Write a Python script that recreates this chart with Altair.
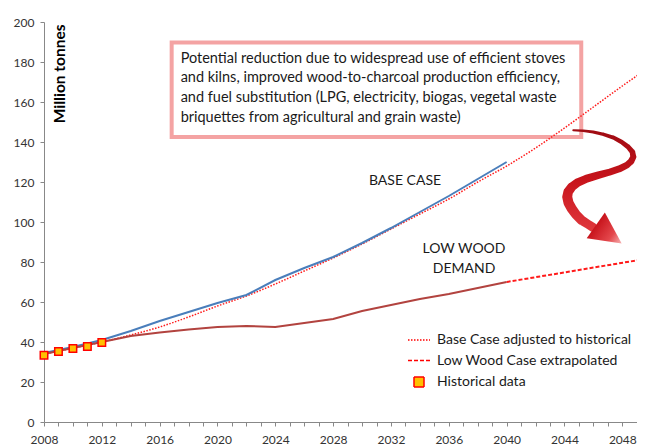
import altair as alt
import pandas as pd

# ---------------- data ----------------
proj_years = [2008, 2010, 2012, 2014, 2016, 2018, 2020, 2022, 2024,
              2026, 2028, 2030, 2032, 2034, 2036, 2038, 2040]
base_case = [34.5, 37.5, 41, 45.5, 50.5, 55, 59.5, 63.5, 71,
             77, 82.5, 89.5, 97, 105, 113, 121.5, 130]
low_wood = [34, 37, 40, 43, 44.8, 46.3, 47.5, 48, 47.5,
            49.5, 51.5, 55.5, 58.5, 61.5, 64, 67, 70]

adj_years = [2008, 2010, 2012, 2014, 2016, 2018, 2020, 2022, 2024, 2026, 2028,
             2030, 2032, 2034, 2036, 2038, 2040, 2042, 2044, 2046, 2048, 2050]
base_adjusted = [34, 37, 40, 43.5, 47.5, 52.5, 58, 63, 69, 75.5, 82,
                 89, 96.5, 104, 111.5, 120, 128, 137, 147, 157.5, 168, 178]

ext_years = [2040, 2050]
low_extrapolated = [70, 82]

hist_years = [2008, 2009, 2010, 2011, 2012]
hist_values = [33.4, 35.3, 36.7, 37.8, 39.8]

legend_labels = ["Base Case adjusted to historical",
                 "Low Wood Case extrapolated",
                 "Historical data"]

note_lines = ["Potential reduction due to widespread use of efficient stoves",
              "and kilns, improved wood-to-charcoal production efficiency,",
              "and fuel substitution (LPG, electricity,  biogas, vegetal waste",
              "briquettes from agricultural and grain waste)"]

# annotation anchors (data space)
box_x, box_x2, box_y, box_y2 = 2016.83, 2045.16, 142.5, 189.75
note_x, note_top, note_step = 2017.45, 181.7, 9.9
arrow_year = [2044.61, 2045.30, 2045.99, 2046.70, 2047.38, 2047.95, 2048.41,
              2048.70, 2048.76, 2048.60, 2048.30, 2047.80, 2047.15, 2046.35,
              2045.54, 2044.90, 2044.50, 2044.25, 2044.19, 2044.28, 2044.50,
              2044.80, 2045.19, 2045.60, 2045.97]
arrow_val = [145.85, 145.6, 145.0, 143.8, 142.2, 140.0, 137.5,
             135.0, 132.5, 130.3, 128.35, 126.6, 125.0, 123.4,
             121.7, 119.7, 117.5, 115.0, 112.5, 109.6, 106.7,
             103.7, 100.85, 99.0, 97.35]
arrow_w = [2, 2.5, 3, 3.5, 4, 4.5, 5, 5.5, 6, 6.5, 6.5, 7, 7,
           7.5, 8, 8.5, 9, 9.5, 10, 10, 10, 9.5, 9.5, 9, 9]

FONT = "Lato"

# ---------------- frames ----------------
df_base = pd.DataFrame({"year": proj_years, "value": base_case})
df_low = pd.DataFrame({"year": proj_years, "value": low_wood})
df_adj = pd.DataFrame({"year": adj_years, "value": base_adjusted})
df_ext = pd.DataFrame({"year": ext_years, "value": low_extrapolated})
df_hist = pd.DataFrame({"year": hist_years, "value": hist_values,
                        "series": ["Historical data"] * len(hist_years)})
df_box = pd.DataFrame({"year": [box_x], "year2": [box_x2],
                       "value": [box_y], "value2": [box_y2]})
df_note = pd.DataFrame({"year": [note_x] * len(note_lines),
                        "value": [note_top - i * note_step for i in range(len(note_lines))],
                        "text": note_lines})
df_labels = pd.DataFrame({"year": [2032.97, 2037.05, 2037.05],
                          "value": [120.6, 86.35, 76.35],
                          "text": ["BASE CASE", "LOW WOOD", "DEMAND"]})
df_arrow = pd.DataFrame({"year": arrow_year, "value": arrow_val,
                         "w": arrow_w, "i": list(range(len(arrow_year)))})
df_head = pd.DataFrame({"year": [2047.06], "value": [93.8]})

xscale = alt.Scale(domain=[2008, 2049.5], nice=False, zero=False)
yscale = alt.Scale(domain=[0, 200], nice=False)
xaxis = alt.Axis(values=list(range(2008, 2050)), format="d",
                 labelExpr="datum.value % 4 === 0 ? datum.label : ''",
                 grid=False, tickSize=4, labelPadding=8, labelOverlap=False,
                 labelFlush=False)
yaxis = alt.Axis(values=list(range(0, 201, 20)), grid=False, tickSize=4,
                 labelPadding=6, title="Million tonnes", titleAngle=270,
                 titleAlign="right", titleBaseline="middle", titleX=15,
                 titleY=2, titleFontWeight="bold", titleFontSize=15.5,
                 titleFont=FONT, titleColor="#000000")

X = alt.X("year:Q", scale=xscale, axis=xaxis, title=None)
Y = alt.Y("value:Q", scale=yscale, axis=yaxis)

box = alt.Chart(df_box).mark_rect(fill="white", stroke="#F4A3A3",
                                  strokeWidth=4).encode(
    x=X, x2="year2:Q", y=Y, y2="value2:Q")

note = alt.Chart(df_note).mark_text(align="left", baseline="middle",
                                    font=FONT, fontSize=14.5,
                                    color="#1a1a1a").encode(
    x=X, y=Y, text="text:N")

base_line = alt.Chart(df_base).mark_line(color="#4A7EBB", strokeWidth=2).encode(x=X, y=Y)
low_line = alt.Chart(df_low).mark_line(color="#B2433F", strokeWidth=2).encode(x=X, y=Y)
adj_line = alt.Chart(df_adj).mark_line(color="#FF1A1A", strokeWidth=1.5,
                                       strokeDash=[1.5, 1.5], clip=True,
                                       interpolate="monotone").encode(x=X, y=Y)
ext_line = alt.Chart(df_ext).mark_line(color="#FF1A1A", strokeWidth=2,
                                       strokeDash=[4, 2], clip=True).encode(x=X, y=Y)

LINE_SYM = "M-2.2,0L2.2,0"
hist = alt.Chart(df_hist).mark_point(filled=True, stroke="#FF0000",
                                     strokeWidth=1.5, opacity=1).encode(
    x=X, y=Y,
    fill=alt.Fill("series:N",
                  scale=alt.Scale(domain=legend_labels,
                                  range=["#FFFFFF", "#FFFFFF", "#FFC000"]),
                  legend=alt.Legend(title=None, orient="none",
                                    legendX=368, legendY=311)),
    shape=alt.Shape("series:N",
                    scale=alt.Scale(domain=legend_labels,
                                    range=[LINE_SYM, LINE_SYM, "square"])),
    strokeDash=alt.StrokeDash("series:N",
                              scale=alt.Scale(domain=legend_labels,
                                              range=[[1.5, 1.5], [4, 2], [1, 0]])),
    size=alt.Size("series:N",
                  scale=alt.Scale(type="ordinal", domain=legend_labels,
                                  range=[196, 196, 56])),
)

labels = alt.Chart(df_labels).mark_text(font=FONT, fontSize=14,
                                        color="#1a1a1a").encode(
    x=X, y=Y, text="text:N")

arrow_fill = alt.Gradient(gradient="linear", x1=0, y1=0, x2=0, y2=1,
                          stops=[alt.GradientStop(color="#9E0B12", offset=0),
                                 alt.GradientStop(color="#C8141C", offset=0.5),
                                 alt.GradientStop(color="#E0383D", offset=1)])
arrow = alt.Chart(df_arrow).mark_trail(fill=arrow_fill).encode(
    x=X, y=Y, order="i:Q",
    size=alt.Size("w:Q", scale=alt.Scale(domain=[0, 10], range=[0, 10]),
                  legend=None))

head_fill = alt.Gradient(gradient="linear", x1=0, y1=1, x2=0, y2=0,
                         stops=[alt.GradientStop(color="#C8141C", offset=0),
                                alt.GradientStop(color="#E4474C", offset=0.6),
                                alt.GradientStop(color="#F6B3B3", offset=1)])
head = alt.Chart(df_head).mark_point(shape="M0,-1L1,1L-1,1Z", filled=True,
                                     fill=head_fill, size=1000, angle=125,
                                     opacity=1).encode(x=X, y=Y)

chart = alt.layer(box, note, adj_line, ext_line, base_line, low_line, hist,
                  labels, arrow, head).resolve_scale(size="independent").properties(
    width=600, height=400,
    autosize=alt.AutoSizeParams(type="none"),
    padding={"left": 36, "top": 14, "right": -7, "bottom": 23},
).configure_view(stroke=None).configure_axis(
    domainColor="#888888", tickColor="#888888", labelFont=FONT,
    labelFontSize=12, labelColor="#333333"
).configure_legend(
    labelFont=FONT, labelFontSize=14, labelColor="#1a1a1a",
    symbolStrokeWidth=1.5, labelOffset=11, rowPadding=6.5, padding=0,
    labelLimit=300
)

chart.save("out.html", embed_options={"renderer": "svg", "actions": False})
